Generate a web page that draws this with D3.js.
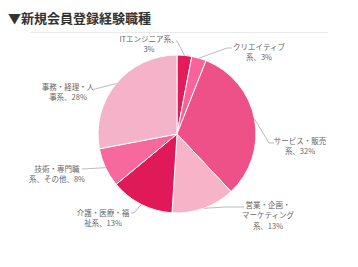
<!DOCTYPE html>
<html>
<head>
<meta charset="utf-8">
<script src="https://cdn.jsdelivr.net/npm/d3@7"></script>
<style>
  body { margin: 0; background: #fff; }
  #container { width: 358px; height: 267px; }
</style>
</head>
<body>
<div id="container"></div>
<script>
const title = "▼新規会員登録経験職種";

const categories = [
  "ITエンジニア系",
  "クリエイティブ系",
  "サービス・販売系",
  "営業・企画・マーケティング系",
  "介護・医療・福祉系",
  "技術・専門職系、その他",
  "事務・経理・人事系"
];
const values = [3, 3, 32, 13, 13, 8, 28];
const labelLines = [
  ["ITエンジニア系、", "3%"],
  ["クリエイティブ", "系、3%"],
  ["サービス・販売", "系、32%"],
  ["営業・企画・", "マーケティング", "系、13%"],
  ["介護・医療・福", "祉系、13%"],
  ["技術・専門職", "系、その他、8%"],
  ["事務・経理・人", "事系、28%"]
];
const colors = ["#e21b5a", "#f8649a", "#ed5187", "#f7b4c9", "#e01a58", "#f7689c", "#f4b3c8"];

// label placement: block centre x, first line y, elbow and end of leader
const labelLayout = [
  { cx: 149, y: 39, elbow: [177, 41], end: [176, 41] },
  { cx: 259, y: 47, elbow: [227, 48], end: [232, 48] },
  { cx: 300, y: 141, elbow: [269, 143], end: [274, 143] },
  { cx: 268, y: 205, elbow: [225, 207], end: [244, 207] },
  { cx: 103, y: 213, elbow: [134, 213], end: [131, 213] },
  { cx: 57, y: 169, elbow: [100, 168], end: [82, 169] },
  { cx: 68, y: 87, elbow: [95, 89], end: [94, 89] }
];

const w = 358;
const h = 267;
const cx = 177;
const cy = 134;
const r = 79;
const lineH = 10.5;

const svg = d3.select("#container")
  .append("svg")
  .attr("width", w)
  .attr("height", h)
  .style("font-family", "'Noto Sans CJK JP', 'Noto Sans', sans-serif");

svg.append("text")
  .attr("x", 8)
  .attr("y", 23)
  .attr("font-size", 13)
  .attr("font-weight", "bold")
  .attr("fill", "#333")
  .text(title);

svg.append("line")
  .attr("x1", 30).attr("x2", 328)
  .attr("y1", 32.5).attr("y2", 32.5)
  .attr("stroke", "#eaeaea");

const data = categories.map((c, i) => ({ name: c, value: values[i], i }));

const pie = d3.pie().sort(null).value(d => d.value);
const arcs = pie(data);
const arc = d3.arc().innerRadius(0).outerRadius(r);
const edge = d3.arc().innerRadius(r).outerRadius(r);

const g = svg.append("g").attr("transform", `translate(${cx},${cy})`);

g.selectAll("path.slice")
  .data(arcs)
  .enter()
  .append("path")
  .attr("class", "slice")
  .attr("d", arc)
  .attr("fill", d => colors[d.data.i])
  .attr("stroke", "#fff")
  .attr("stroke-width", 1);

// leader lines
svg.selectAll("path.leader")
  .data(arcs)
  .enter()
  .append("path")
  .attr("class", "leader")
  .attr("fill", "none")
  .attr("stroke", "#aaa")
  .attr("stroke-width", 0.8)
  .attr("d", d => {
    const p = edge.centroid(d);
    const L = labelLayout[d.data.i];
    return d3.line()([[p[0] + cx, p[1] + cy], L.elbow, L.end]);
  });

const labels = svg.selectAll("text.lbl")
  .data(arcs)
  .enter()
  .append("text")
  .attr("class", "lbl")
  .attr("text-anchor", "middle")
  .attr("font-size", 7.5)
  .attr("fill", "#666");

labels.each(function (d) {
  const L = labelLayout[d.data.i];
  d3.select(this).selectAll("tspan")
    .data(labelLines[d.data.i])
    .enter()
    .append("tspan")
    .attr("x", L.cx)
    .attr("y", (t, k) => L.y + k * lineH)
    .attr("dy", "0.35em")
    .text(t => t);
});
</script>
</body>
</html>
